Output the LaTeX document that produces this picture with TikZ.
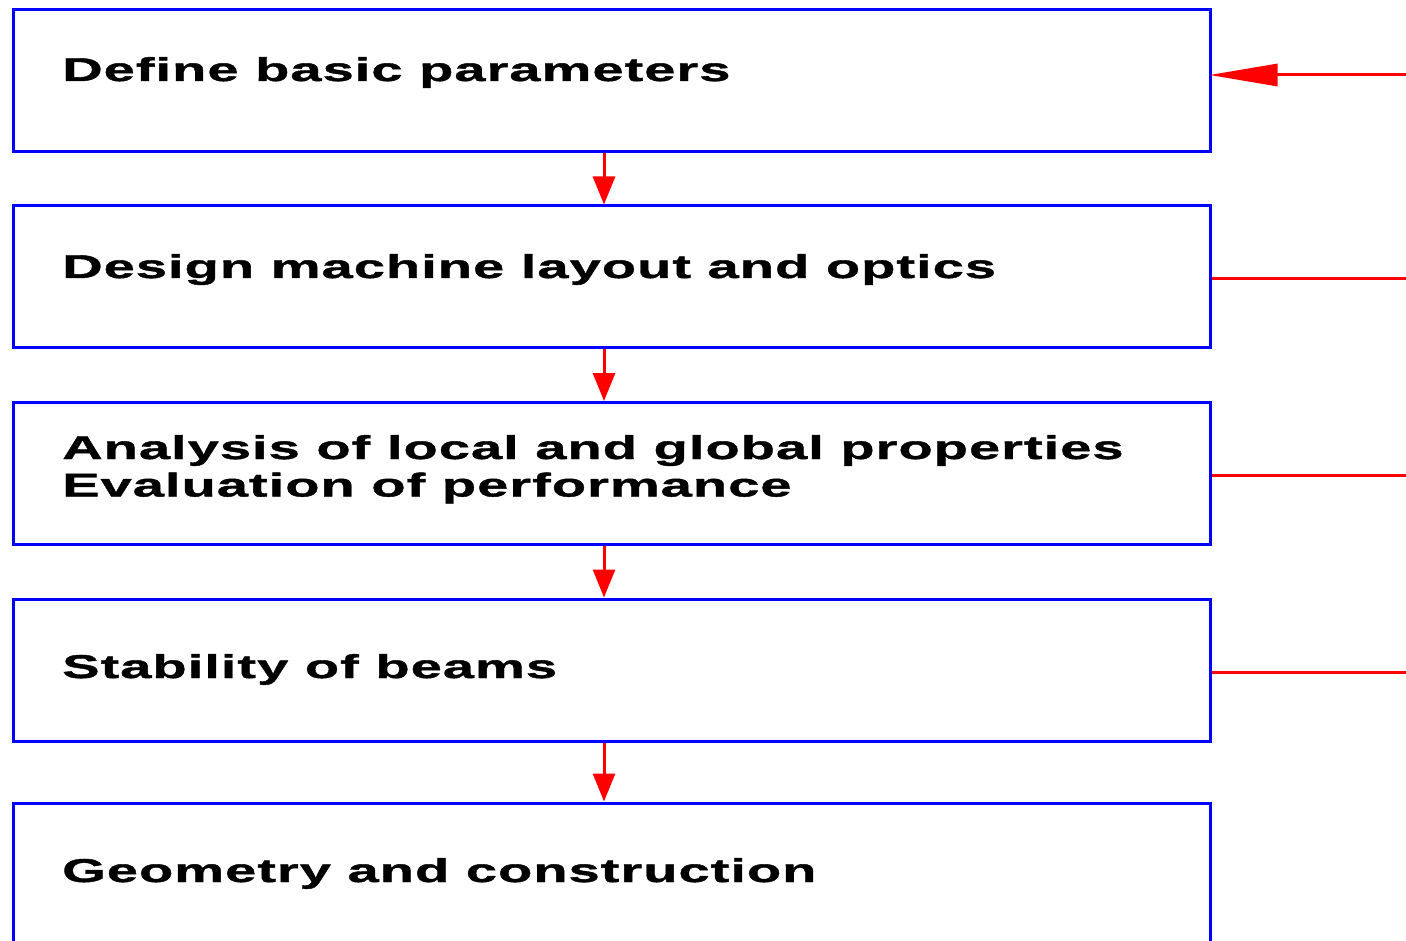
\documentclass[tikz,border=0pt]{standalone}
\usepackage{fontspec}
\usetikzlibrary{arrows.meta}
\newfontfamily\steplabelfont[FakeStretch=1.7,LetterSpace=3,FakeBold=1.2]{Liberation Sans}
\definecolor{boxblue}{RGB}{0,0,255}
\definecolor{flowred}{RGB}{255,0,0}
\tikzset{
  stagebox/.style={draw=boxblue, line width=3pt, rectangle, inner sep=0pt,
    minimum width=1197pt, minimum height=142pt, anchor=north west},
  stagetext/.style={anchor=base west, inner sep=0pt,
    font=\steplabelfont\bfseries\fontsize{33}{34}\selectfont},
  flow/.style={draw=flowred, line width=3pt,
    -{Triangle[length=28pt, width=22pt]}},
  feedin/.style={draw=flowred, line width=3pt,
    -{Triangle[length=68pt, width=22pt]}},
  feedout/.style={draw=flowred, line width=3pt}
}
\begin{document}
\begin{tikzpicture}[x=1pt, y=-1pt]
\useasboundingbox (0,0) rectangle (1406,941);
% stage boxes
\node[stagebox] (b1) at (12,8.5)   {};
\node[stagebox] (b2) at (12,204.5) {};
\node[stagebox] (b3) at (12,401) {};
\node[stagebox] (b4) at (12,597.5) {};
\node[stagebox] (b5) at (12,801.5) {};
% stage labels
\node[stagetext] (t1)  at (62,81)  {Define basic parameters};
\node[stagetext] (t2)  at (62,278) {Design machine layout and optics};
\node[stagetext] (t3a) at (62,459) {Analysis of local and global properties};
\node[stagetext] (t3b) at (62,496.5) {Evaluation of performance};
\node[stagetext] (t4)  at (62,678) {Stability of beams};
\node[stagetext] (t5)  at (62,882) {Geometry and construction};
% downward flow between stages, on a common column
\coordinate (col) at (604,0);
\draw[flow] (b1.south -| col) -- (b2.north -| col);
\draw[flow] (b2.south -| col) -- (b3.north -| col);
\draw[flow] (b3.south -| col) -- (b4.north -| col);
\draw[flow] (b4.south -| col) -- (b5.north -| col);
% feedback lines on the right
\coordinate (f1) at (1406,75);
\coordinate (f2) at (1406,279);
\coordinate (f3) at (1406,475);
\coordinate (f4) at (1406,672);
\draw[feedin] (f1) -- ([xshift=-2.5pt]f1 -| b1.east);
\draw[feedout] (f2 -| b2.east) -- (f2);
\draw[feedout] (f3 -| b3.east) -- (f3);
\draw[feedout] (f4 -| b4.east) -- (f4);
\end{tikzpicture}
\end{document}
